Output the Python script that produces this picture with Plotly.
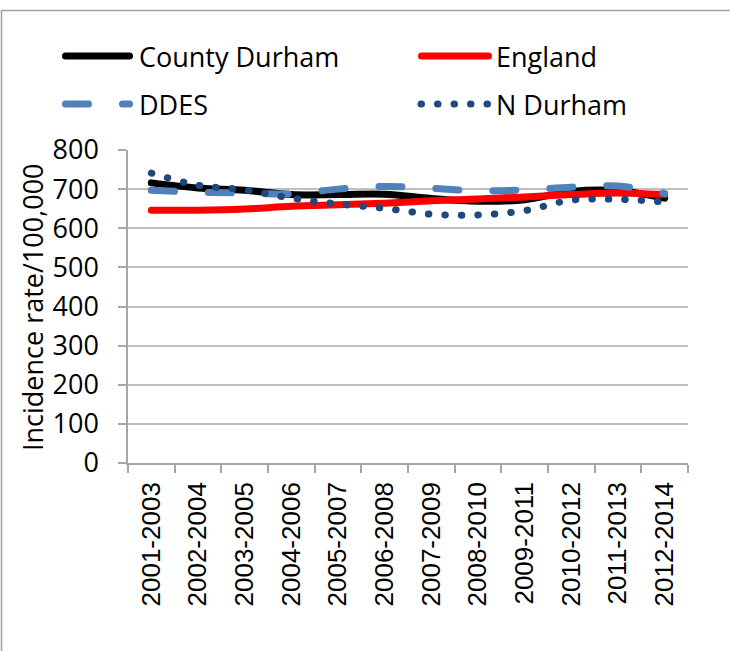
import plotly.graph_objects as go

# Three-year rolling periods
categories = ["2001-2003", "2002-2004", "2003-2005", "2004-2006", "2005-2007",
              "2006-2008", "2007-2009", "2008-2010", "2009-2011", "2010-2012",
              "2011-2013", "2012-2014"]

# Incidence rate per 100,000
county_durham = [716, 703, 697, 686, 686, 687, 676, 669, 673, 694, 696, 677]
england = [646, 646, 649, 656, 660, 664, 670, 675, 680, 686, 690, 686]
ddes = [697, 692, 690, 688, 700, 707, 702, 696, 698, 705, 708, 689]
n_durham = [741, 710, 698, 677, 662, 651, 636, 634, 645, 672, 674, 667]

y_ticks = [0, 100, 200, 300, 400, 500, 600, 700, 800]

W, H = 730, 651
L, R, T, B = 128, 688, 150, 463

BLACK = "#000000"
RED = "#ff0000"
LIGHT_BLUE = "#4f81bd"
DARK_BLUE = "#1f497d"
GRID = "#bfbfbf"
AXIS = "#a6a6a6"

LABEL_FONT = "'Open Sans', Lato, sans-serif"
TICK_FONT = "'Liberation Sans', Arial, sans-serif"


def px(x):
    return (x - L) / (R - L)


def py(y):
    return (B - y) / (B - T)


series = [
    ("County Durham", county_durham, BLACK, 7, "solid"),
    ("England", england, RED, 7, "solid"),
    ("DDES", ddes, LIGHT_BLUE, 7, "23px,34px"),
    ("N Durham", n_durham, DARK_BLUE, 7, "0.5px,16px"),
]

fig = go.Figure()
for name, vals, color, width, dash in series:
    fig.add_trace(go.Scatter(
        x=categories, y=vals, name=name, mode="lines",
        line=dict(color=color, width=width, dash=dash, shape="spline"),
        showlegend=False, hoverinfo="skip",
    ))

shapes = []
annotations = []

# Hand-laid legend: two rows, two columns
legend_items = [
    ("County Durham", BLACK, 7, "solid", 65.5, 129.5, 56, 137),
    ("England", RED, 7, "solid", 421.5, 488.5, 56, 494),
    ("DDES", LIGHT_BLUE, 7, "23px,34px", 65.5, 129.5, 104, 137),
    ("N Durham", DARK_BLUE, 7, "0.5px,16px", 421, 487.5, 104, 494),
]
for text, color, width, dash, x0, x1, yc, tx in legend_items:
    shapes.append(dict(
        type="line", xref="paper", yref="paper",
        x0=px(x0), x1=px(x1), y0=py(yc), y1=py(yc),
        line=dict(color=color, width=width, dash=dash),
    ))
    annotations.append(dict(
        text=text, xref="paper", yref="paper", x=px(tx), y=py(yc),
        xanchor="left", yanchor="middle", showarrow=False,
        font=dict(family=LABEL_FONT, size=27, color="#000000"),
    ))

# Chart frame
shapes.append(dict(
    type="rect", xref="paper", yref="paper",
    x0=px(1.5), x1=px(760), y0=py(10.5), y1=py(700),
    line=dict(color="#a0a0a0", width=1.5), fillcolor="rgba(0,0,0,0)", layer="below",
))

# Y axis title
annotations.append(dict(
    text="Incidence rate/100,000", xref="paper", yref="paper",
    x=px(32), y=py(307), textangle=-90, showarrow=False,
    xanchor="center", yanchor="middle",
    font=dict(family=LABEL_FONT, size=27, color="#000000"),
))

fig.update_layout(
    width=W, height=H,
    margin=dict(l=L, r=W - R, t=T, b=H - B, pad=0),
    paper_bgcolor="white", plot_bgcolor="white",
    shapes=shapes, annotations=annotations,
    showlegend=False,
    xaxis=dict(
        type="category", tickson="boundaries", ticks="outside", ticklen=8,
        tickcolor=AXIS, tickwidth=1.5, showline=True, linecolor=AXIS, linewidth=1.5,
        showgrid=False, tickangle=-90, ticklabelstandoff=7,
        tickfont=dict(family=TICK_FONT, size=26, color="#000000"),
        range=[-0.5, len(categories) - 0.5],
    ),
    yaxis=dict(
        range=[0, 800], tickvals=y_ticks, ticks="outside", ticklen=8,
        tickcolor=AXIS, tickwidth=1.5, showline=True, linecolor=AXIS, linewidth=1.5,
        showgrid=True, gridcolor=GRID, gridwidth=1.5, zeroline=False,
        ticklabelstandoff=14,
        tickfont=dict(family=LABEL_FONT, size=27, color="#000000"),
    ),
)

round_caps = """
var gd = document.getElementById('{plot_id}');
gd.querySelectorAll('.scatterlayer .js-line, .shapelayer path').forEach(function (p) {
  p.style.strokeLinecap = 'round';
});
"""

fig.write_html("out.html", post_script=round_caps)
